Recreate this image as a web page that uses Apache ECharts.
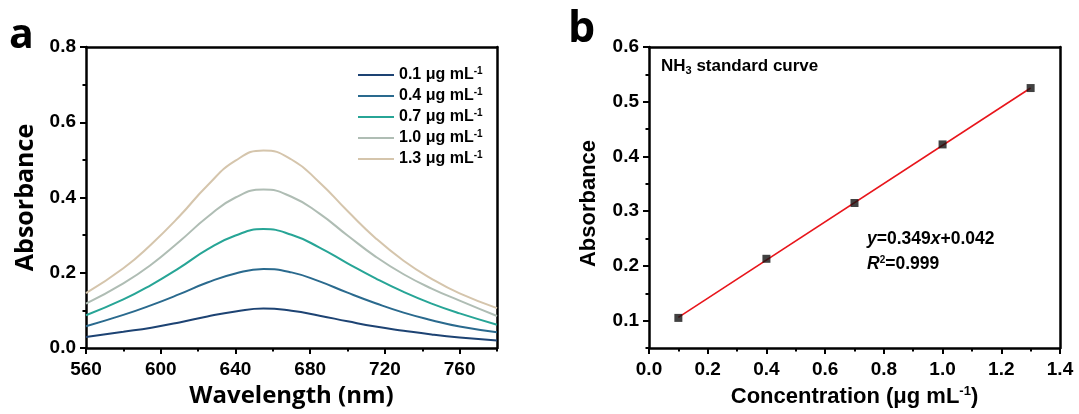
<!DOCTYPE html>
<html><head><meta charset="utf-8">
<script src="https://cdn.jsdelivr.net/npm/echarts@6/dist/echarts.min.js"></script>
<style>html,body{margin:0;padding:0;background:#fff}#c{width:1079px;height:414px}</style>
</head><body><div id="c"></div>
<script>
// ---- Panel a: UV-vis spectra ----
const wavelengths = [560,580,595,610,625,640,655,670,685,700,715,730,745,760,780];
const conc01 = [0.029,0.043,0.054,0.068,0.084,0.097,0.105,0.099,0.086,0.071,0.057,0.046,0.036,0.028,0.020];
const conc04 = [0.058,0.088,0.114,0.143,0.174,0.198,0.210,0.201,0.177,0.147,0.119,0.094,0.074,0.057,0.042];
const conc07 = [0.087,0.129,0.168,0.213,0.262,0.299,0.316,0.301,0.267,0.225,0.185,0.149,0.118,0.092,0.062];
const conc10 = [0.118,0.172,0.222,0.283,0.348,0.400,0.421,0.402,0.357,0.299,0.243,0.196,0.158,0.126,0.085];
const conc13 = [0.146,0.212,0.276,0.350,0.432,0.498,0.525,0.501,0.440,0.364,0.292,0.232,0.184,0.145,0.106];
const seriesLabels = ['0.1','0.4','0.7','1.0','1.3'];
const seriesColors = ['#1d4373','#2a6a8e','#27a596','#afbdb4','#d5c5ac'];
const spectra = [conc01, conc04, conc07, conc10, conc13];

// ---- Panel b: standard curve ----
const concentrations = [0.1, 0.4, 0.7, 1.0, 1.3];
const absorbances = [0.105, 0.213, 0.315, 0.422, 0.525];
const fitX = [0.1, 1.3];
const fitY = [0.106, 0.525];
const bYTicks = [0.1, 0.2, 0.3, 0.4, 0.5, 0.6];

const TF = 'Liberation Sans, Arial, sans-serif';
const black = '#000000';
const tickLabel = {fontSize: 19, fontWeight: 'bold', fontFamily: TF, color: black};
const AXW = 2.5;

function mainAxis(extra) {
  return Object.assign({
    type: 'value',
    axisLine: {show: true, onZero: false, lineStyle: {color: black, width: AXW}},
    axisTick: {show: true, inside: false, length: 6, lineStyle: {color: black, width: 2}},
    splitLine: {show: false}
  }, extra);
}
function minorAxis(extra) {
  return Object.assign({
    type: 'value',
    axisLine: {show: false},
    axisTick: {show: true, inside: false, length: 3.5, lineStyle: {color: black, width: 2}},
    axisLabel: {show: false},
    splitLine: {show: false}
  }, extra);
}
function frameAxis(extra) {
  return Object.assign({
    type: 'value',
    axisLine: {show: true, onZero: false, lineStyle: {color: black, width: AXW}},
    axisTick: {show: false},
    axisLabel: {show: false},
    splitLine: {show: false}
  }, extra);
}
const minorTickStyle = {show: true, splitNumber: 2, length: 3.5, lineStyle: {color: black, width: 2}};

const chart = echarts.init(document.getElementById('c'), null, {renderer: 'canvas'});

const series = spectra.map((vals, i) => ({
  name: seriesLabels[i],
  type: 'line',
  xAxisIndex: 0, yAxisIndex: 0,
  smooth: 0.5,
  symbol: 'none',
  showSymbol: false,
  lineStyle: {color: seriesColors[i], width: 2},
  itemStyle: {color: seriesColors[i]},
  data: wavelengths.map((w, j) => [w, vals[j]])
}));
series.push({
  type: 'line', xAxisIndex: 3, yAxisIndex: 3, symbol: 'none',
  lineStyle: {color: '#e8151b', width: 1.6}, z: 2,
  data: fitX.map((x, i) => [x, fitY[i]])
});
series.push({
  type: 'scatter', xAxisIndex: 3, yAxisIndex: 3, symbol: 'rect', symbolSize: 8,
  itemStyle: {color: '#111'}, z: 3,
  data: concentrations.map((x, i) => [x, absorbances[i]])
});

chart.setOption({
  animation: false,
  backgroundColor: '#fff',
  grid: [
    {left: 86, top: 47, width: 411, height: 301, show: false},
    {left: 649, top: 47, width: 411, height: 301, show: false}
  ],
  legend: {
    data: seriesLabels,
    orient: 'vertical', left: 352, top: 61,
    itemWidth: 36, itemHeight: 14, itemGap: 3,
    itemStyle: {opacity: 0},
    formatter: n => '{t|' + n + ' μg mL}{s|-1}',
    textStyle: {
      rich: {
        t: {fontSize: 16, lineHeight: 18, fontWeight: 'bold', fontFamily: TF, color: black},
        s: {fontSize: 10, lineHeight: 10, fontWeight: 'bold', fontFamily: TF, color: black, padding: [0, 0, 8, 0]}
      }
    }
  },
  xAxis: [
    mainAxis({gridIndex: 0, position: 'bottom', min: 560, max: 780, interval: 40,
      axisLabel: Object.assign({margin: 12, showMaxLabel: false}, tickLabel),
      name: 'Wavelength (nm)', nameLocation: 'middle', nameGap: 30,
      nameTextStyle: {fontFamily: 'Open Sans', fontWeight: 'bold', fontSize: 24, color: black}}),
    minorAxis({gridIndex: 0, position: 'bottom', min: 560, max: 780, interval: 20}),
    frameAxis({gridIndex: 0, position: 'top', min: 560, max: 780}),
    mainAxis({gridIndex: 1, position: 'bottom', min: 0, max: 1.4, interval: 0.2,
      minorTick: minorTickStyle,
      axisLabel: Object.assign({margin: 12, formatter: v => v.toFixed(1)}, tickLabel),
      name: '{n|Concentration (μg mL}{s|-1}{n|)}', nameLocation: 'middle', nameGap: 37,
      nameTextStyle: {rich: {
        n: {fontFamily: TF, fontWeight: 'bold', fontSize: 22, color: black},
        s: {fontFamily: TF, fontWeight: 'bold', fontSize: 13, color: black, padding: [0, 0, 10, 0]}
      }}}),
    frameAxis({gridIndex: 1, position: 'top', min: 0, max: 1.4})
  ],
  yAxis: [
    mainAxis({gridIndex: 0, position: 'left', min: 0, max: 0.8, interval: 0.2,
      minorTick: minorTickStyle,
      axisLabel: Object.assign({margin: 10, formatter: v => v.toFixed(1)}, tickLabel),
      name: 'Absorbance', nameLocation: 'middle', nameGap: 48,
      nameTextStyle: {fontFamily: 'Open Sans', fontWeight: 'bold', fontSize: 25, color: black}}),
    frameAxis({gridIndex: 0, position: 'right', min: 0, max: 0.8}),
    minorAxis({gridIndex: 1, position: 'left', min: 0.05, max: 0.6, interval: 0.05}),
    mainAxis({gridIndex: 1, position: 'left', min: 0.05, max: 0.6,
      axisTick: {show: true, inside: false, length: 6, customValues: bYTicks, lineStyle: {color: black, width: 2}},
      axisLabel: Object.assign({margin: 10, customValues: bYTicks, formatter: v => v.toFixed(1)}, tickLabel),
      name: 'Absorbance', nameLocation: 'middle', nameGap: 49,
      nameTextStyle: {fontFamily: TF, fontWeight: 'bold', fontSize: 22, color: black, padding: [0, 12, 0, 0]}}),
    frameAxis({gridIndex: 1, position: 'right', min: 0.05, max: 0.6})
  ],
  graphic: [
    {type: 'text', left: 9, top: 16, style: {text: 'a', fontFamily: 'Open Sans', fontWeight: 'bold', fontSize: 41, fill: black}},
    {type: 'text', left: 568, top: 8, style: {text: 'b', fontFamily: 'Open Sans', fontWeight: 'bold', fontSize: 43, fill: black}},
    {type: 'text', left: 661, top: 58, style: {
      text: '{a|NH}{b|3}{a| standard curve}',
      rich: {
        a: {fontFamily: TF, fontWeight: 'bold', fontSize: 17, color: black},
        b: {fontFamily: TF, fontWeight: 'bold', fontSize: 11, color: black, padding: [9, 0, 0, 0]}
      }}},
    {type: 'text', left: 867, top: 230, style: {
      text: '{i|y}{a|=0.349}{i|x}{a|+0.042}',
      rich: {
        a: {fontFamily: TF, fontWeight: 'bold', fontSize: 17.5, color: black},
        i: {fontFamily: TF, fontWeight: 'bold', fontStyle: 'italic', fontSize: 17.5, color: black}
      }}},
    {type: 'text', left: 867, top: 255, style: {
      text: '{i|R}{s|2}{a|=0.999}',
      rich: {
        a: {fontFamily: TF, fontWeight: 'bold', fontSize: 17.5, color: black},
        i: {fontFamily: TF, fontWeight: 'bold', fontStyle: 'italic', fontSize: 17.5, color: black},
        s: {fontFamily: TF, fontWeight: 'bold', fontSize: 10, color: black, padding: [0, 0, 9, 0]}
      }}}
  ],
  series: series
});
</script>
</body></html>
